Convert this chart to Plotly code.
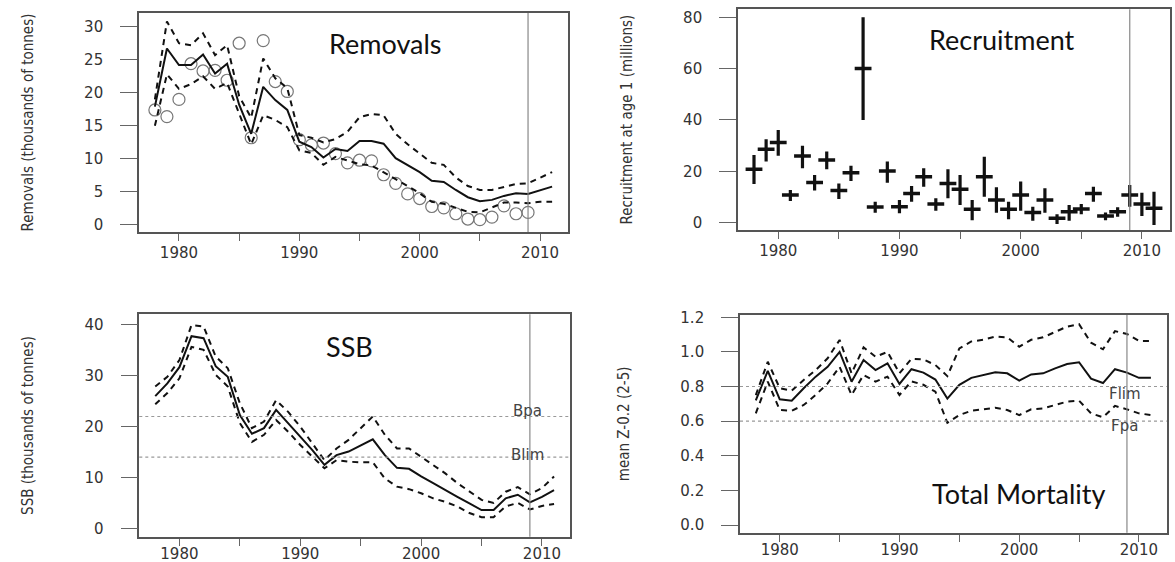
import plotly.graph_objects as go

# ---------------- data ----------------
years = list(range(1978, 2012))
obs_years = list(range(1978, 2010))

rem_est = [17.9, 26.7, 24.2, 24.2, 25.8, 22.9, 24.4, 18.2, 13.8, 20.9, 18.9, 17.4,
           12.6, 11.8, 10.2, 11.5, 11.2, 12.7, 12.7, 12.3, 10.1, 9.1,
           8.0, 6.7, 6.5, 5.3, 4.2, 3.6, 3.8, 4.4, 4.8, 4.7, 5.2, 5.8]
rem_hi = [19.0, 30.8, 27.5, 27.2, 29.0, 25.7, 27.2, 19.5, 16.2, 25.2, 22.2, 20.7,
          13.6, 13.2, 12.5, 13.0, 14.1, 16.3, 16.8, 16.6, 13.8, 12.2,
          10.8, 9.4, 9.1, 7.2, 5.9, 5.3, 5.3, 5.8, 6.2, 6.3, 7.1, 8.0]
rem_lo = [15.0, 22.8, 20.6, 21.3, 22.5, 20.6, 21.5, 16.8, 12.2, 16.6, 15.9, 14.8,
          11.3, 10.9, 9.1, 10.3, 9.7, 9.2, 9.0, 8.0, 6.9, 5.9,
          4.8, 3.5, 3.2, 2.6, 2.0, 1.9, 2.6, 3.4, 3.4, 3.3, 3.5, 3.5]
rem_obs = [17.4, 16.4, 19.0, 24.4, 23.3, 23.4, 21.9, 27.5, 13.2, 27.9, 21.7, 20.2,
           12.9, 12.1, 12.4, 10.8, 9.4, 9.8, 9.7, 7.6, 6.3, 4.7,
           4.0, 2.8, 2.6, 1.7, 0.9, 0.8, 1.2, 2.9, 1.7, 1.9]

rec = [20.8, 28.6, 31.2, 10.8, 26.0, 15.7, 24.4, 12.5, 19.5, 60.0,
       6.1, 20.1, 6.2, 11.4, 17.9, 7.3, 15.3, 13.0, 5.2, 17.9,
       8.8, 5.2, 10.8, 4.0, 8.8, 1.7, 4.3, 5.3, 11.4, 2.6,
       4.3, 10.8, 7.3, 5.6]
rec_hi = [26.4, 32.5, 36.1, 12.7, 30.0, 18.6, 27.7, 15.3, 22.2, 80.0,
          8.2, 23.8, 8.8, 14.3, 21.2, 9.5, 20.8, 18.6, 8.8, 25.7,
          13.8, 8.2, 16.0, 6.2, 13.4, 3.3, 6.9, 7.3, 14.0, 4.0,
          6.0, 14.7, 11.7, 12.1]
rec_lo = [15.1, 23.8, 26.1, 8.5, 21.2, 12.5, 20.8, 9.2, 16.2, 40.0,
          3.9, 15.6, 3.7, 8.2, 14.0, 4.7, 9.5, 6.9, 1.0, 10.1,
          3.9, 1.3, 4.7, 0.8, 3.9, -0.5, 0.8, 3.3, 8.2, 1.0,
          2.3, 6.2, 2.6, -0.9]

ssb_est = [26.0, 28.5, 31.7, 37.8, 37.4, 31.9, 29.8, 22.3, 18.6, 19.7, 23.3, 20.7,
           18.0, 15.4, 12.5, 14.4, 15.1, 16.3, 17.5, 14.4, 11.9, 11.7,
           10.2, 8.9, 7.5, 6.2, 4.9, 3.6, 3.6, 5.9, 6.6, 5.1, 6.2, 7.5]
ssb_hi = [27.9, 29.8, 33.1, 40.0, 39.7, 33.8, 31.5, 24.6, 19.7, 21.0, 25.2, 22.9,
          20.0, 16.7, 13.4, 15.7, 17.4, 19.7, 22.0, 18.4, 15.7, 15.7,
          14.1, 12.5, 10.8, 8.9, 7.2, 5.6, 5.0, 7.2, 8.1, 6.7, 7.9, 10.2]
ssb_lo = [24.4, 26.6, 29.5, 35.7, 35.1, 30.2, 27.9, 20.7, 17.0, 18.4, 21.3, 19.0,
          16.4, 14.1, 11.8, 13.4, 13.1, 13.0, 13.0, 9.8, 8.2, 7.7,
          6.9, 5.9, 5.2, 4.3, 3.0, 2.2, 2.2, 4.3, 5.0, 3.7, 4.4, 4.8]

z_est = [0.72, 0.89, 0.726, 0.718, 0.79, 0.857, 0.914, 1.00, 0.828, 0.953, 0.895, 0.934,
         0.815, 0.90, 0.88, 0.84, 0.73, 0.81, 0.85, 0.867, 0.882, 0.876,
         0.834, 0.87, 0.876, 0.905, 0.93, 0.94, 0.845, 0.82, 0.90, 0.88, 0.85, 0.85]
z_hi = [0.75, 0.943, 0.79, 0.776, 0.838, 0.895, 0.963, 1.069, 0.876, 1.026, 0.972, 1.0,
        0.876, 0.96, 0.956, 0.924, 0.86, 1.02, 1.06, 1.07, 1.088, 1.084,
        1.03, 1.07, 1.084, 1.117, 1.146, 1.16, 1.053, 1.015, 1.12, 1.103, 1.063, 1.063]
z_lo = [0.645, 0.828, 0.664, 0.66, 0.693, 0.751, 0.818, 0.914, 0.751, 0.867, 0.828, 0.857,
        0.751, 0.83, 0.81, 0.77, 0.59, 0.635, 0.66, 0.668, 0.677, 0.664,
        0.635, 0.668, 0.673, 0.693, 0.713, 0.718, 0.645, 0.622, 0.688, 0.668, 0.645, 0.635]

x_tickvals = [1980, 1985, 1990, 1995, 2000, 2005, 2010]
x_ticktext = ["1980", "", "1990", "", "2000", "", "2010"]
rem_ticks = [0, 5, 10, 15, 20, 25, 30]
rec_ticks = [0, 20, 40, 60, 80]
ssb_ticks = [0, 10, 20, 30, 40]
z_ticks = [0.0, 0.2, 0.4, 0.6, 0.8, 1.0, 1.2]
z_ticktext = ["0.0", "0.2", "0.4", "0.6", "0.8", "1.0", "1.2"]
ref_year = 2009
bpa, blim = 22, 14
flim, fpa = 0.8, 0.6

# ---------------- figure ----------------
W, H = 1175, 562
fig = go.Figure()

LINE = "#111111"
dash = "6px,5px"

def band(xa, ya, est, hi, lo):
    fig.add_trace(go.Scatter(x=years, y=hi, mode="lines", xaxis=xa, yaxis=ya,
                             line=dict(color=LINE, width=2, dash=dash), showlegend=False))
    fig.add_trace(go.Scatter(x=years, y=lo, mode="lines", xaxis=xa, yaxis=ya,
                             line=dict(color=LINE, width=2, dash=dash), showlegend=False))
    fig.add_trace(go.Scatter(x=years, y=est, mode="lines", xaxis=xa, yaxis=ya,
                             line=dict(color=LINE, width=2), showlegend=False))

# Panel 1: removals
fig.add_trace(go.Scatter(x=obs_years, y=rem_obs, mode="markers", xaxis="x", yaxis="y",
                         marker=dict(symbol="circle-open", size=12, color="#777777",
                                     line=dict(width=1.2, color="#777777")),
                         showlegend=False))
band("x", "y", rem_est, rem_hi, rem_lo)

# Panel 2: recruitment
fig.add_trace(go.Scatter(
    x=years, y=rec, mode="markers", xaxis="x2", yaxis="y2",
    marker=dict(symbol="line-ew", size=12, color=LINE, line=dict(width=3.5, color=LINE)),
    error_y=dict(type="data", symmetric=False,
                 array=[h - v for h, v in zip(rec_hi, rec)],
                 arrayminus=[v - l for v, l in zip(rec, rec_lo)],
                 thickness=3.2, width=0, color=LINE),
    showlegend=False))

# Panel 3: SSB
band("x3", "y3", ssb_est, ssb_hi, ssb_lo)
# Panel 4: total mortality
band("x4", "y4", z_est, z_hi, z_lo)

# panel geometry in pixels (left, right, top, bottom)
geo = {
    1: (139, 568, 13, 232),
    2: (738, 1170, 9.3, 230),
    3: (139.3, 570, 314.3, 536.7),
    4: (740, 1166.7, 315, 532.7),
}
yranges = {1: [-1.06, 32.07], 2: [-2.84, 83.1], 3: [-1.65, 42.1], 4: [-0.0445, 1.213]}
yticks = {1: (rem_ticks, [str(t) for t in rem_ticks]),
          2: (rec_ticks, [str(t) for t in rec_ticks]),
          3: (ssb_ticks, [str(t) for t in ssb_ticks]),
          4: (z_ticks, z_ticktext)}
ytitles = {1: "Removals (thousands of tonnes)",
           2: "Recruitment at age 1 (millions)",
           3: "SSB (thousands of tonnes)",
           4: "mean Z-0.2 (2-5)"}
xlabel_standoff = {1: -1, 2: -1, 3: -5, 4: -5}

tickfont = dict(family="DejaVu Sans, Arial, sans-serif", size=15, color="#333333")
titlefont = dict(family="Liberation Sans Narrow, DejaVu Sans Condensed, Arial Narrow, sans-serif",
                 size=15, color="#333333")

layout = dict(width=W, height=H, margin=dict(l=0, r=0, t=0, b=0),
              paper_bgcolor="white", plot_bgcolor="white", template="none",
              showlegend=False)
for i in range(1, 5):
    l, r, t, b = geo[i]
    sx = "" if i == 1 else str(i)
    layout["xaxis" + sx] = dict(
        domain=[l / W, r / W], anchor="y" + sx, range=[1976.68, 2012.32],
        tickmode="array", tickvals=x_tickvals, ticktext=x_ticktext,
        ticks="outside", ticklen=7, tickwidth=1.3, tickcolor="#666666",
        showline=True, mirror=True, linecolor="#555555", linewidth=1.6,
        showgrid=False, zeroline=False, tickfont=tickfont,
        ticklabelstandoff=xlabel_standoff[i], automargin=False)
    layout["yaxis" + sx] = dict(
        domain=[1 - b / H, 1 - t / H], anchor="x" + sx, range=yranges[i],
        tickmode="array", tickvals=yticks[i][0], ticktext=yticks[i][1],
        ticks="outside", ticklen=17, tickwidth=1.3, tickcolor="#666666",
        showline=True, mirror=True, linecolor="#555555", linewidth=1.6,
        showgrid=False, zeroline=False, tickfont=tickfont, ticklabelstandoff=14,
        title=dict(text=ytitles[i], font=titlefont, standoff=47),
        automargin=False)
fig.update_layout(**layout)

shapes = []
for i in range(1, 5):
    sx = "" if i == 1 else str(i)
    shapes.append(dict(type="line", xref="x" + sx, yref="y" + sx + " domain",
                       x0=ref_year, x1=ref_year, y0=0, y1=1,
                       line=dict(color="#888888", width=1.2)))
for yv, ax in [(bpa, "3"), (blim, "3"), (flim, "4"), (fpa, "4")]:
    shapes.append(dict(type="line", xref="x" + ax + " domain", yref="y" + ax,
                       x0=0, x1=1, y0=yv, y1=yv,
                       line=dict(color="#999999", width=1.2, dash="dot")))
fig.update_layout(shapes=shapes)

panel_font = dict(family="Lato, Open Sans, sans-serif", size=27, color="#111111")
ref_font = dict(family="DejaVu Sans, Arial, sans-serif", size=15, color="#444444")
annotations = [
    dict(text="Removals", x=1997.15, y=27.5, xref="x", yref="y", showarrow=False, font=panel_font),
    dict(text="Recruitment", x=1998.5, y=71.2, xref="x2", yref="y2", showarrow=False, font=panel_font),
    dict(text="SSB", x=1994.05, y=35.7, xref="x3", yref="y3", showarrow=False, font=panel_font),
    dict(text="Total Mortality", x=1999.95, y=0.183, xref="x4", yref="y4", showarrow=False, font=panel_font),
    dict(text="Bpa", x=2008.8, y=23.1, xref="x3", yref="y3", showarrow=False, font=ref_font),
    dict(text="Blim", x=2008.8, y=14.4, xref="x3", yref="y3", showarrow=False, font=ref_font),
    dict(text="Flim", x=2008.8, y=0.757, xref="x4", yref="y4", showarrow=False, font=ref_font),
    dict(text="Fpa", x=2008.8, y=0.574, xref="x4", yref="y4", showarrow=False, font=ref_font),
]
fig.update_layout(annotations=annotations)

fig.write_html("out.html", config={"displayModeBar": False},
               post_script="document.body.style.margin='0';document.body.style.overflow='hidden';")
